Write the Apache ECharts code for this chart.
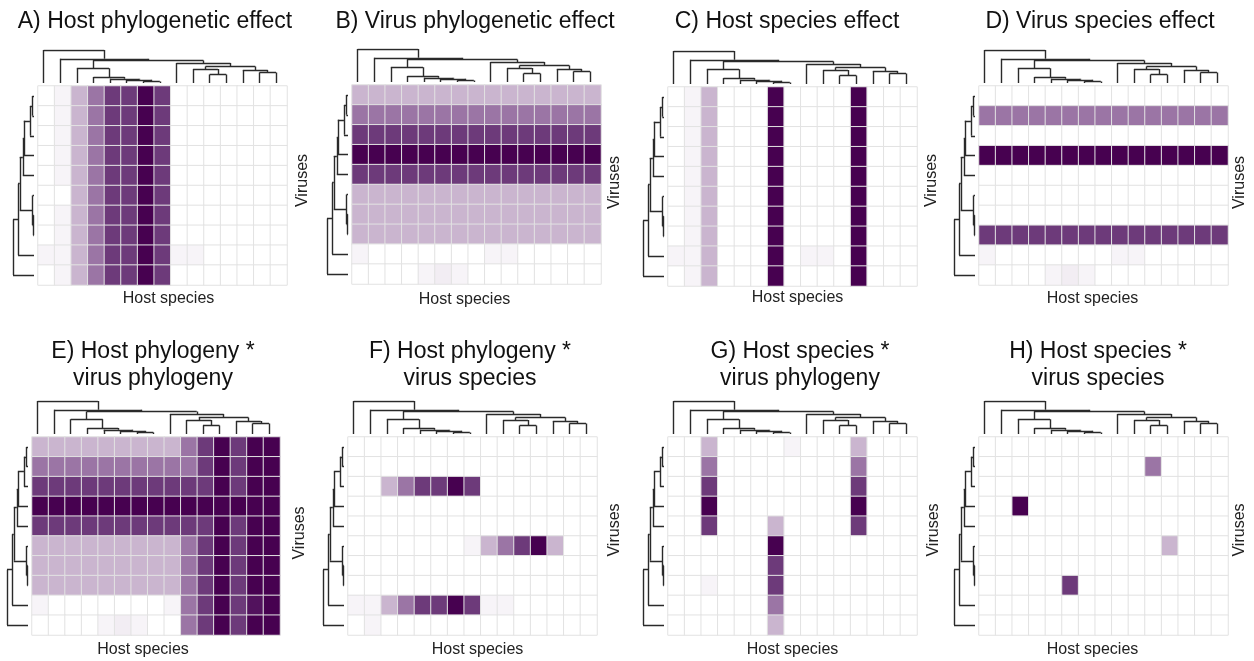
<!DOCTYPE html>
<html>
<head>
<meta charset="utf-8">
<script src="https://cdn.jsdelivr.net/npm/echarts@6/dist/echarts.min.js"></script>
<style>
  html, body { margin: 0; padding: 0; background: #fff; }
  #chart { width: 1254px; height: 661px; }
</style>
</head>
<body>
<div id="chart"></div>
<script>
/* categories */
var hosts = ['H1', 'H2', 'H3', 'H4', 'H5', 'H6', 'H7', 'H8', 'H9', 'H10', 'H11', 'H12', 'H13', 'H14', 'H15'];
var viruses = ['V1', 'V2', 'V3', 'V4', 'V5', 'V6', 'V7', 'V8', 'V9', 'V10'];

/* trees: [height, left, right], leaves are indices */
var hostTree = [94, 0, [69, 1, [64, [42, 2, [17, 3, [12, 4, [9, 5, [4, 6, 7]]]]], [57, 8, [47, [40, 9, [24, 10, 11]], [37, 12, [30, 13, 14]]]]]]];
var virusTree = [62, [47, [42, [33, [30, [12, [5, 0, 1], 2], 3], 4], [4, 5, [2, 6, 7]]], 8], 9];

/* cell values, 0 = none .. 4 = strongest; f = faint */
var f = 0.15;
var valuesA = [
  [0, f, 1, 2, 3, 3, 4, 3, 0, 0, 0, 0, 0, 0, 0],
  [0, f, 1, 2, 3, 3, 4, 3, 0, 0, 0, 0, 0, 0, 0],
  [0, f, 1, 2, 3, 3, 4, 3, 0, 0, 0, 0, 0, 0, 0],
  [0, f, 1, 2, 3, 3, 4, 3, 0, 0, 0, 0, 0, 0, 0],
  [0, f, 1, 2, 3, 3, 4, 3, 0, 0, 0, 0, 0, 0, 0],
  [0, 0, 1, 2, 3, 3, 4, 3, 0, 0, 0, 0, 0, 0, 0],
  [0, f, 1, 2, 3, 3, 4, 3, 0, 0, 0, 0, 0, 0, 0],
  [0, f, 1, 2, 3, 3, 4, 3, 0, 0, 0, 0, 0, 0, 0],
  [f, f, 1, 2, 3, 3, 4, 3, f, f, 0, 0, 0, 0, 0],
  [0, f, 1, 2, 3, 3, 4, 3, 0, 0, 0, 0, 0, 0, 0]
];
var valuesB = [
  [1, 1, 1, 1, 1, 1, 1, 1, 1, 1, 1, 1, 1, 1, 1],
  [2, 2, 2, 2, 2, 2, 2, 2, 2, 2, 2, 2, 2, 2, 2],
  [3, 3, 3, 3, 3, 3, 3, 3, 3, 3, 3, 3, 3, 3, 3],
  [4, 4, 4, 4, 4, 4, 4, 4, 4, 4, 4, 4, 4, 4, 4],
  [3, 3, 3, 3, 3, 3, 3, 3, 3, 3, 3, 3, 3, 3, 3],
  [1, 1, 1, 1, 1, 1, 1, 1, 1, 1, 1, 1, 1, 1, 1],
  [1, 1, 1, 1, 1, 1, 1, 1, 1, 1, 1, 1, 1, 1, 1],
  [1, 1, 1, 1, 1, 1, 1, 1, 1, 1, 1, 1, 1, 1, 1],
  [f, 0, 0, 0, 0, 0, 0, 0, f, f, 0, 0, 0, 0, 0],
  [0, 0, 0, 0, f, 0.25, f, 0, 0, 0, 0, 0, 0, 0, 0]
];
var valuesC = [
  [0, f, 1, 0, 0, 0, 4, 0, 0, 0, 0, 4, 0, 0, 0],
  [0, f, 1, 0, 0, 0, 4, 0, 0, 0, 0, 4, 0, 0, 0],
  [0, f, 1, 0, 0, 0, 4, 0, 0, 0, 0, 4, 0, 0, 0],
  [0, f, 1, 0, 0, 0, 4, 0, 0, 0, 0, 4, 0, 0, 0],
  [0, f, 1, 0, 0, 0, 4, 0, 0, 0, 0, 4, 0, 0, 0],
  [0, f, 1, 0, 0, 0, 4, 0, 0, 0, 0, 4, 0, 0, 0],
  [0, f, 1, 0, 0, 0, 4, 0, 0, 0, 0, 4, 0, 0, 0],
  [0, f, 1, 0, 0, 0, 4, 0, 0, 0, 0, 4, 0, 0, 0],
  [f, f, 1, 0, 0, 0, 4, 0, f, f, 0, 4, 0, 0, 0],
  [0, f, 1, 0, 0, 0, 4, 0, 0, 0, 0, 4, 0, 0, 0]
];
var valuesD = [
  [0, 0, 0, 0, 0, 0, 0, 0, 0, 0, 0, 0, 0, 0, 0],
  [2, 2, 2, 2, 2, 2, 2, 2, 2, 2, 2, 2, 2, 2, 2],
  [0, 0, 0, 0, 0, 0, 0, 0, 0, 0, 0, 0, 0, 0, 0],
  [4, 4, 4, 4, 4, 4, 4, 4, 4, 4, 4, 4, 4, 4, 4],
  [0, 0, 0, 0, 0, 0, 0, 0, 0, 0, 0, 0, 0, 0, 0],
  [0, 0, 0, 0, 0, 0, 0, 0, 0, 0, 0, 0, 0, 0, 0],
  [0, 0, 0, 0, 0, 0, 0, 0, 0, 0, 0, 0, 0, 0, 0],
  [3, 3, 3, 3, 3, 3, 3, 3, 3, 3, 3, 3, 3, 3, 3],
  [f, 0, 0, 0, 0, 0, 0, 0, f, f, 0, 0, 0, 0, 0],
  [0, 0, 0, 0, f, 0.25, f, 0, 0, 0, 0, 0, 0, 0, 0]
];
var valuesE = [
  [1, 1, 1, 1, 1, 1, 1, 1, 1, 2, 3, 4, 3, 4, 4],
  [2, 2, 2, 2, 2, 2, 2, 2, 2, 2, 3, 4, 3, 4, 4],
  [3, 3, 3, 3, 3, 3, 3, 3, 3, 3, 3, 4, 3, 4, 4],
  [4, 4, 4, 4, 4, 4, 4, 4, 4, 4, 4, 4, 4, 4, 4],
  [3, 3, 3, 3, 3, 3, 3, 3, 3, 3, 3, 4, 3, 4, 4],
  [1, 1, 1, 1, 1, 1, 1, 1, 1, 2, 3, 4, 3, 4, 4],
  [1, 1, 1, 1, 1, 1, 1, 1, 1, 2, 3, 4, 3, 4, 4],
  [1, 1, 1, 1, 1, 1, 1, 1, 1, 2, 3, 4, 3, 4, 4],
  [f, 0, 0, 0, 0, 0, 0, 0, f, 2, 3, 4, 3, 3.7, 4],
  [0, 0, 0, 0, f, 0.25, f, 0, 0, 2, 3, 4, 3, 4, 4]
];
var valuesF = [
  [0, 0, 0, 0, 0, 0, 0, 0, 0, 0, 0, 0, 0, 0, 0],
  [0, 0, 0, 0, 0, 0, 0, 0, 0, 0, 0, 0, 0, 0, 0],
  [0, 0, 1, 2, 3, 3, 4, 3, 0, 0, 0, 0, 0, 0, 0],
  [0, 0, 0, 0, 0, 0, 0, 0, 0, 0, 0, 0, 0, 0, 0],
  [0, 0, 0, 0, 0, 0, 0, 0, 0, 0, 0, 0, 0, 0, 0],
  [0, 0, 0, 0, 0, 0, 0, f, 1, 2, 3, 4, 1, 0, 0],
  [0, 0, 0, 0, 0, 0, 0, 0, 0, 0, 0, 0, 0, 0, 0],
  [0, 0, 0, 0, 0, 0, 0, 0, 0, 0, 0, 0, 0, 0, 0],
  [f, f, 1, 2, 3, 3, 4, 3, f, f, 0, 0, 0, 0, 0],
  [0, f, 0, 0, 0, 0, 0, 0, 0, 0, 0, 0, 0, 0, 0]
];
var valuesG = [
  [0, 0, 1, 0, 0, 0, 0, f, 0, 0, 0, 1, 0, 0, 0],
  [0, 0, 2, 0, 0, 0, 0, 0, 0, 0, 0, 2, 0, 0, 0],
  [0, 0, 3, 0, 0, 0, 0, 0, 0, 0, 0, 3, 0, 0, 0],
  [0, 0, 4, 0, 0, 0, 0, 0, 0, 0, 0, 4, 0, 0, 0],
  [0, 0, 3, 0, 0, 0, 1, 0, 0, 0, 0, 3, 0, 0, 0],
  [0, 0, 0, 0, 0, 0, 4, 0, 0, 0, 0, 0, 0, 0, 0],
  [0, 0, 0, 0, 0, 0, 3, 0, 0, 0, 0, 0, 0, 0, 0],
  [0, 0, f, 0, 0, 0, 3, 0, 0, 0, 0, 0, 0, 0, 0],
  [0, 0, 0, 0, 0, 0, 2, 0, 0, 0, 0, 0, 0, 0, 0],
  [0, 0, 0, 0, 0, 0, 1, 0, 0, 0, 0, 0, 0, 0, 0]
];
var valuesH = [
  [0, 0, 0, 0, 0, 0, 0, 0, 0, 0, 0, 0, 0, 0, 0],
  [0, 0, 0, 0, 0, 0, 0, 0, 0, 0, 2, 0, 0, 0, 0],
  [0, 0, 0, 0, 0, 0, 0, 0, 0, 0, 0, 0, 0, 0, 0],
  [0, 0, 4, 0, 0, 0, 0, 0, 0, 0, 0, 0, 0, 0, 0],
  [0, 0, 0, 0, 0, 0, 0, 0, 0, 0, 0, 0, 0, 0, 0],
  [0, 0, 0, 0, 0, 0, 0, 0, 0, 0, 0, 1, 0, 0, 0],
  [0, 0, 0, 0, 0, 0, 0, 0, 0, 0, 0, 0, 0, 0, 0],
  [0, 0, 0, 0, 0, 3, 0, 0, 0, 0, 0, 0, 0, 0, 0],
  [0, 0, 0, 0, 0, 0, 0, 0, 0, 0, 0, 0, 0, 0, 0],
  [0, 0, 0, 0, 0, 0, 0, 0, 0, 0, 0, 0, 0, 0, 0]
];

var titles = [
  'A) Host phylogenetic effect', 'B) Virus phylogenetic effect',
  'C) Host species effect', 'D) Virus species effect',
  'E) Host phylogeny *\nvirus phylogeny', 'F) Host phylogeny *\nvirus species',
  'G) Host species *\nvirus phylogeny', 'H) Host species *\nvirus species'
];
var allValues = [valuesA, valuesB, valuesC, valuesD, valuesE, valuesF, valuesG, valuesH];

/* layout: heatmap box [left, top, width, height], title centre,
   axis-name gaps and sideways shifts of the axis names */
var layout = [
  {box: [38, 86, 249, 199], title: [155, 22], xGap: 6, yGap: 8, xShift: 6, yShift: 5},
  {box: [352, 85, 249, 199], title: [475, 22], xGap: 8, yGap: 6, xShift: -12, yShift: 2},
  {box: [668, 87, 249, 199], title: [787, 22], xGap: 4, yGap: 7, xShift: 5, yShift: 6},
  {box: [979, 86, 249, 199], title: [1100, 22], xGap: 6, yGap: 4, xShift: -11, yShift: 3},
  {box: [32, 437, 248, 198], title: [153, 365], xGap: 7, yGap: 12, xShift: -13, yShift: 3},
  {box: [348, 437, 249, 198], title: [470, 365], xGap: 7, yGap: 10, xShift: 5, yShift: 6},
  {box: [668, 437, 249, 198], title: [800, 365], xGap: 7, yGap: 9, xShift: 0, yShift: 6},
  {box: [979, 437, 249, 198], title: [1098, 365], xGap: 7, yGap: 4, xShift: -11, yShift: 6}
];

var FONT = '"Liberation Sans", Arial, sans-serif';

// walk a tree and collect elbow segments as [pos, height] pairs
function treeSegments(node, segs, leafPos) {
    if (typeof node === 'number') {
        return {p: leafPos(node), h: 0};
    }
    var a = treeSegments(node[1], segs, leafPos);
    var b = treeSegments(node[2], segs, leafPos);
    var h = node[0];
    segs.push([[a.p, a.h], [a.p, h]]);
    segs.push([[b.p, b.h], [b.p, h]]);
    segs.push([[a.p, h], [b.p, h]]);
    return {p: (a.p + b.p) / 2, h: h};
}

// padding that moves a centred label by s pixels along its reading direction
function shiftPad(s) {
    return s >= 0 ? [0, 0, 0, 2 * s] : [0, -2 * s, 0, 0];
}

var hostSegs = [];
treeSegments(hostTree, hostSegs, function (i) { return i + 0.34; });
var virusSegs = [];
treeSegments(virusTree, virusSegs, function (i) { return i + 0.5; });

var grids = [], xAxes = [], yAxes = [], series = [], heatIdx = [], graphics = [];
var hidden = {show: false};

layout.forEach(function (L, k) {
    var b = L.box;
    /* heatmap */
    var gi = grids.length;
    grids.push({left: b[0], top: b[1], width: b[2], height: b[3]});
    xAxes.push({
        gridIndex: gi, type: 'category', data: hosts,
        axisLine: hidden, axisTick: hidden, axisLabel: hidden, splitLine: hidden,
        name: 'Host species', nameLocation: 'middle', nameGap: L.xGap,
        nameTextStyle: {fontFamily: FONT, fontSize: 16, color: '#222', verticalAlign: 'top', padding: shiftPad(L.xShift)}
    });
    yAxes.push({
        gridIndex: gi, type: 'category', data: viruses, inverse: true, position: 'right',
        axisLine: hidden, axisTick: hidden, axisLabel: hidden, splitLine: hidden,
        name: 'Viruses', nameLocation: 'middle', nameRotate: 90, nameGap: L.yGap,
        nameTextStyle: {fontFamily: FONT, fontSize: 16, color: '#222', padding: shiftPad(L.yShift)}
    });
    var data = [];
    allValues[k].forEach(function (row, r) {
        row.forEach(function (v, c) { data.push([c, r, v]); });
    });
    heatIdx.push(series.length);
    series.push({
        type: 'heatmap', xAxisIndex: gi, yAxisIndex: gi, data: data,
        itemStyle: {borderColor: '#e2e2e2', borderWidth: 1},
        emphasis: {disabled: true}, silent: true
    });

    /* host dendrogram on top */
    gi = grids.length;
    grids.push({left: b[0], top: b[1] - 36, width: b[2], height: 33});
    xAxes.push({gridIndex: gi, type: 'value', min: 0, max: 15, show: false});
    yAxes.push({gridIndex: gi, type: 'value', min: 0, max: 94, show: false});
    series.push({
        type: 'lines', coordinateSystem: 'cartesian2d', xAxisIndex: gi, yAxisIndex: gi,
        data: hostSegs.map(function (s) { return {coords: s}; }),
        lineStyle: {color: '#2a2a2a', width: 1.4, opacity: 1}, silent: true
    });

    /* virus dendrogram on the left */
    gi = grids.length;
    grids.push({left: b[0] - 25, top: b[1], width: 21, height: b[3]});
    xAxes.push({gridIndex: gi, type: 'value', min: 0, max: 62, inverse: true, show: false});
    yAxes.push({gridIndex: gi, type: 'value', min: 0, max: 10, inverse: true, show: false});
    series.push({
        type: 'lines', coordinateSystem: 'cartesian2d', xAxisIndex: gi, yAxisIndex: gi,
        data: virusSegs.map(function (s) { return {coords: [[s[0][1], s[0][0]], [s[1][1], s[1][0]]]}; }),
        lineStyle: {color: '#2a2a2a', width: 1.4, opacity: 1}, silent: true
    });

    graphics.push({
        type: 'text', x: L.title[0], y: L.title[1], silent: true,
        style: {
            text: titles[k], fill: '#111', fontFamily: FONT, fontSize: 23,
            lineHeight: 27, align: 'center', verticalAlign: 'middle',
            textAlign: 'center', textVerticalAlign: 'middle'
        }
    });
});

var chart = echarts.init(document.getElementById('chart'));
chart.setOption({
    animation: false,
    backgroundColor: '#fff',
    grid: grids,
    xAxis: xAxes,
    yAxis: yAxes,
    visualMap: {
        type: 'continuous', show: false, min: 0, max: 4, seriesIndex: heatIdx,
        inRange: {color: ['#ffffff', '#cab5cf', '#9b75a5', '#6d3a7a', '#470150']}
    },
    graphic: graphics,
    series: series
});
window.addEventListener('resize', function () { chart.resize(); });
</script>
</body>
</html>
